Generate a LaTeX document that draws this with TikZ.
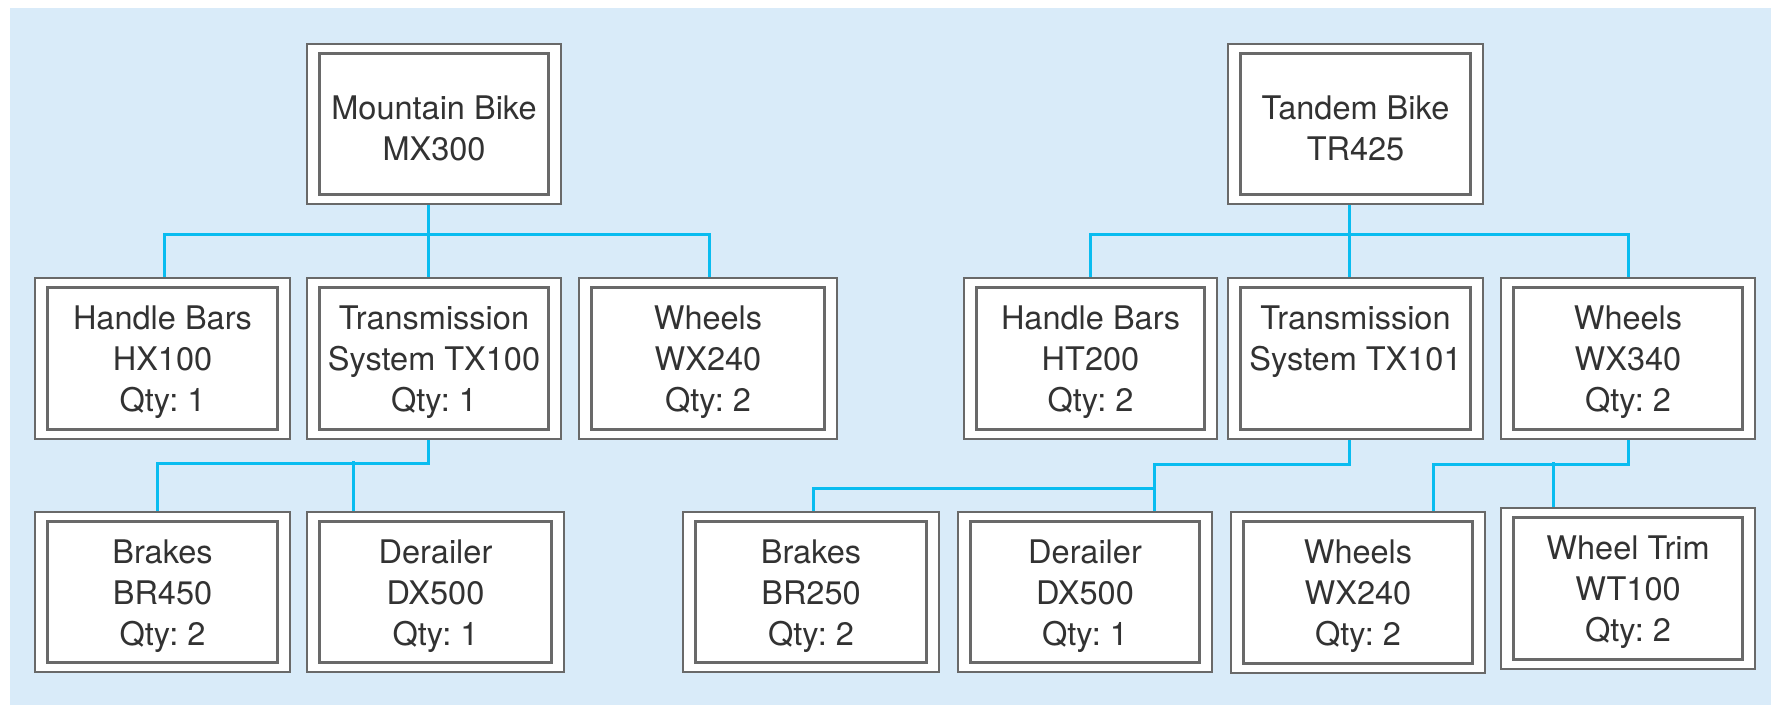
\documentclass[tikz,border=0pt]{standalone}
\usepackage{fontspec}
\setmainfont{TeX Gyre Heros}
\frenchspacing
\usetikzlibrary{calc}
\definecolor{bgblue}{RGB}{217,235,249}
\definecolor{conncol}{RGB}{10,188,240}
\definecolor{boxgray}{RGB}{105,105,105}
\definecolor{txtgray}{RGB}{50,50,50}
\tikzset{
  partbox/.style={draw=boxgray, line width=2.4pt, fill=white, inner sep=0pt},
  parttext/.style={inner sep=0pt, align=center, text=txtgray,
    font=\fontsize{32.5}{41}\selectfont},
  innerframe/.style={draw=boxgray, line width=2.2pt},
  conn/.style={draw=conncol, line width=3pt}
}
\newcommand\pbox[6]{%
  \node[partbox, minimum width={#4-#2}, minimum height={#5-#3}] (#1) at ({(#2+#4)/2},{(#3+#5)/2}) {};
  \draw[innerframe] ({#2+12.5},{#3+9.5}) rectangle ({#4-12.5},{#5-9.5});
  \node[parttext] (#1-t) at ($(#1.center)+(0,4)$) {#6};
}
\begin{document}
\begin{tikzpicture}[x=1pt,y=-1pt]
\useasboundingbox (0,0) rectangle (1771,705);
\fill[bgblue] (10,8) rectangle (1771,705);

% level 1
\pbox{mb}{307}{44}{561}{204}{Mountain Bike\\MX300}
\pbox{tb}{1228}{44}{1483}{204}{Tandem Bike\\TR425}
% level 2
\pbox{hb1}{35}{278}{290}{439}{Handle Bars\\HX100\\Qty: 1}
\pbox{tx1}{307}{278}{561}{439}{Transmission\\System TX100\\Qty: 1}
\pbox{wh1}{579}{278}{837}{439}{Wheels\\WX240\\Qty: 2}
\pbox{hb2}{964}{278}{1217}{439}{Handle Bars\\HT200\\Qty: 2}
\pbox{tx2}{1228}{278}{1483}{439}{Transmission\\System TX101\\\phantom{Qty: 1}}
\pbox{wh2}{1501}{278}{1755}{439}{Wheels\\WX340\\Qty: 2}
% level 3
\pbox{br1}{35}{512}{290}{672}{Brakes\\BR450\\Qty: 2}
\pbox{dr1}{307}{512}{564}{672}{Derailer\\DX500\\Qty: 1}
\pbox{br2}{683}{512}{939}{672}{Brakes\\BR250\\Qty: 2}
\pbox{dr2}{958}{512}{1212}{672}{Derailer\\DX500\\Qty: 1}
\pbox{wh3}{1231}{512}{1485}{673}{Wheels\\WX240\\Qty: 2}
\pbox{wt}{1501}{508}{1755}{669}{Wheel Trim\\WT100\\Qty: 2}

% connectors, mountain bike
\draw[conn] ($(mb.south)+(-6,0)$) -- ++(0,32);
\draw[conn] ($(hb1.north)+(1.5,0)$) |- ($(wh1.north)+(1,-42)$) -- ($(wh1.north)+(1,0)$);
\draw[conn] ($(tx1.north)+(-6,0)$) -- ++(0,-42);
\draw[conn] ($(tx1.south)+(-6,0)$) -- ++(0,23) -| ($(br1.north)+(-5.5,0)$);
\draw[conn] ($(dr1.north)+(-82.5,0)$) -- ++(0,-50);

% connectors, tandem bike
\draw[conn] ($(tb.south)+(-6.5,0)$) -- ++(0,32);
\draw[conn] ($(hb2.north)+(0,0)$) |- ($(wh2.north)+(0.5,-42)$) -- ($(wh2.north)+(0.5,0)$);
\draw[conn] ($(tx2.north)+(-6.5,0)$) -- ++(0,-42);
\draw[conn] ($(tx2.south)+(-6.5,0)$) -- ++(0,24) -| ($(dr2.north)+(69.3,0)$);
\draw[conn] ($(dr2.north)+(69.3,-22.7)$) -| ($(br2.north)+(2.6,0)$);
\draw[conn] ($(wh2.south)+(0.5,0)$) -- ++(0,24) -| ($(wh3.north)+(75,0)$);
\draw[conn] ($(wt.north)+(-75,0)$) -- ++(0,-45.3);
\end{tikzpicture}
\end{document}
